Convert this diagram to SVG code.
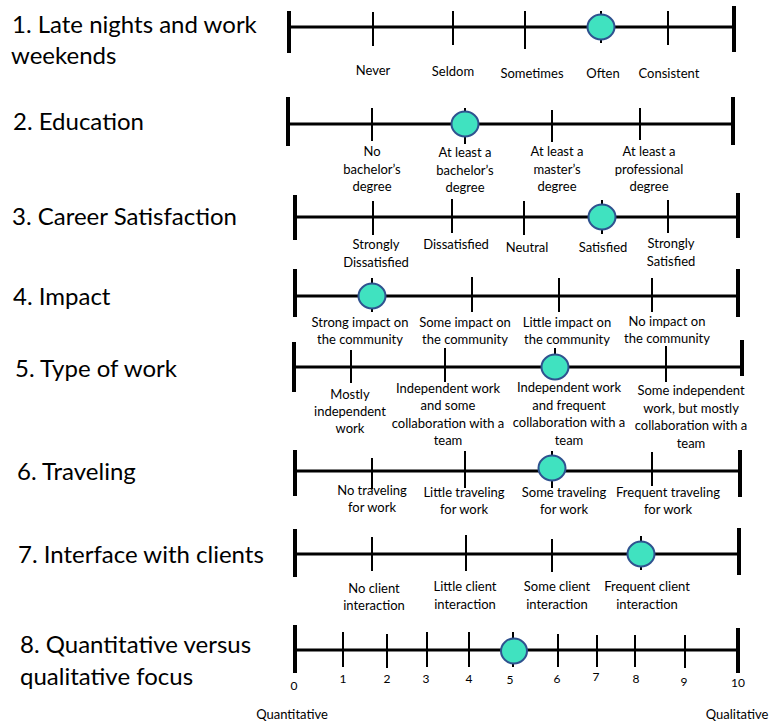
<svg xmlns="http://www.w3.org/2000/svg" width="782" height="721" viewBox="0 0 782 721">
  <style>
    .title { font-family: Lato, "Open Sans", "Liberation Sans", sans-serif; font-size: 24px; fill: #000; }
    .lbl { font-family: Lato, "Open Sans", "Liberation Sans", sans-serif; font-size: 13px; fill: #000; text-anchor: middle; }
    .num { font-family: Lato, "Open Sans", "Liberation Sans", sans-serif; font-size: 12px; fill: #000; text-anchor: middle; }
    .axis { stroke: #000; stroke-width: 3; fill: none; }
    .end { stroke: #000; stroke-width: 4; fill: none; }
    .tick { stroke: #000; stroke-width: 2; fill: none; }
    .mark { fill: #40E2C0; stroke: #2F528F; stroke-width: 2; }
  </style>
  <rect width="782" height="721" fill="#fff"/>

  <!-- 1. Late nights and work weekends -->
  <g id="scale-1">
    <text class="title" x="12" y="33">1. Late nights and work</text>
    <text class="title" x="11" y="64">weekends</text>
    <line class="axis" x1="289" y1="27" x2="734" y2="27"/>
    <line class="end" x1="289" y1="11" x2="289" y2="53"/>
    <line class="end" x1="734" y1="6" x2="734" y2="52"/>
    <line class="tick" x1="373" y1="12" x2="373" y2="46"/>
    <line class="tick" x1="453" y1="11" x2="453" y2="45"/>
    <line class="tick" x1="525" y1="11" x2="525" y2="49"/>
    <line class="tick" x1="601" y1="11" x2="601" y2="43"/>
    <line class="tick" x1="668" y1="11" x2="668" y2="45"/>
    <ellipse class="mark" cx="601" cy="27" rx="13.5" ry="12.5"/>
    <text class="lbl" x="373" y="75">Never</text>
    <text class="lbl" x="453" y="76">Seldom</text>
    <text class="lbl" x="532" y="78">Sometimes</text>
    <text class="lbl" x="603" y="78">Often</text>
    <text class="lbl" x="669" y="78">Consistent</text>
  </g>

  <!-- 2. Education -->
  <g id="scale-2">
    <text class="title" x="13" y="130">2. Education</text>
    <line class="axis" x1="288" y1="124" x2="733" y2="124"/>
    <line class="end" x1="288" y1="97" x2="288" y2="146"/>
    <line class="end" x1="733" y1="97" x2="733" y2="145"/>
    <line class="tick" x1="372" y1="108" x2="372" y2="141"/>
    <line class="tick" x1="465" y1="108" x2="465" y2="144"/>
    <line class="tick" x1="552" y1="110" x2="552" y2="142"/>
    <line class="tick" x1="640" y1="108" x2="640" y2="140"/>
    <ellipse class="mark" cx="465" cy="124" rx="13.5" ry="12.5"/>
    <text class="lbl" x="372" y="156">No</text>
    <text class="lbl" x="372" y="173.5">bachelor’s</text>
    <text class="lbl" x="372" y="191">degree</text>
    <text class="lbl" x="465" y="157">At least a</text>
    <text class="lbl" x="465" y="174.5">bachelor’s</text>
    <text class="lbl" x="465" y="192">degree</text>
    <text class="lbl" x="557" y="156">At least a</text>
    <text class="lbl" x="557" y="173.5">master’s</text>
    <text class="lbl" x="557" y="191">degree</text>
    <text class="lbl" x="649" y="156">At least a</text>
    <text class="lbl" x="649" y="173.5">professional</text>
    <text class="lbl" x="649" y="191">degree</text>
  </g>

  <!-- 3. Career Satisfaction -->
  <g id="scale-3">
    <text class="title" x="12" y="225">3. Career Satisfaction</text>
    <line class="axis" x1="295" y1="217" x2="738" y2="217"/>
    <line class="end" x1="295" y1="195" x2="295" y2="240"/>
    <line class="end" x1="738" y1="193" x2="738" y2="238"/>
    <line class="tick" x1="373" y1="201" x2="373" y2="235"/>
    <line class="tick" x1="452" y1="199" x2="452" y2="233"/>
    <line class="tick" x1="524" y1="201" x2="524" y2="235"/>
    <line class="tick" x1="602" y1="200" x2="602" y2="234"/>
    <line class="tick" x1="668" y1="200" x2="668" y2="233"/>
    <ellipse class="mark" cx="602" cy="217" rx="13.5" ry="12.5"/>
    <text class="lbl" x="376" y="249">Strongly</text>
    <text class="lbl" x="376" y="266.5">Dissatisfied</text>
    <text class="lbl" x="456" y="249">Dissatisfied</text>
    <text class="lbl" x="527" y="251.5">Neutral</text>
    <text class="lbl" x="603" y="251.5">Satisfied</text>
    <text class="lbl" x="671" y="248">Strongly</text>
    <text class="lbl" x="671" y="265.5">Satisfied</text>
  </g>

  <!-- 4. Impact -->
  <g id="scale-4">
    <text class="title" x="13" y="305">4. Impact</text>
    <line class="axis" x1="295" y1="296" x2="738" y2="296"/>
    <line class="end" x1="295" y1="269" x2="295" y2="317"/>
    <line class="end" x1="738" y1="269" x2="738" y2="317"/>
    <line class="tick" x1="372" y1="278" x2="372" y2="312"/>
    <line class="tick" x1="472" y1="277" x2="472" y2="312"/>
    <line class="tick" x1="559" y1="278" x2="559" y2="312"/>
    <line class="tick" x1="652" y1="278" x2="652" y2="312"/>
    <ellipse class="mark" cx="372" cy="296" rx="13.5" ry="12.5"/>
    <text class="lbl" x="360" y="327">Strong impact on</text>
    <text class="lbl" x="360" y="344">the community</text>
    <text class="lbl" x="465" y="327">Some impact on</text>
    <text class="lbl" x="465" y="344">the community</text>
    <text class="lbl" x="567" y="327">Little impact on</text>
    <text class="lbl" x="567" y="344">the community</text>
    <text class="lbl" x="667" y="325.5">No impact on</text>
    <text class="lbl" x="667" y="342.5">the community</text>
  </g>

  <!-- 5. Type of work -->
  <g id="scale-5">
    <text class="title" x="15" y="377">5. Type of work</text>
    <line class="axis" x1="294" y1="367" x2="742" y2="367"/>
    <line class="end" x1="294" y1="342" x2="294" y2="392"/>
    <line class="end" x1="742" y1="340" x2="742" y2="376"/>
    <line class="tick" x1="351" y1="350" x2="351" y2="383"/>
    <line class="tick" x1="445" y1="348" x2="445" y2="382"/>
    <line class="tick" x1="555" y1="348" x2="555" y2="380"/>
    <line class="tick" x1="666" y1="346" x2="666" y2="382"/>
    <ellipse class="mark" cx="555" cy="367" rx="13.5" ry="12.5"/>
    <text class="lbl" x="350" y="399">Mostly</text>
    <text class="lbl" x="350" y="416">independent</text>
    <text class="lbl" x="350" y="433">work</text>
    <text class="lbl" x="448" y="392.5">Independent work</text>
    <text class="lbl" x="448" y="410">and some</text>
    <text class="lbl" x="448" y="427.5">collaboration with a</text>
    <text class="lbl" x="448" y="445">team</text>
    <text class="lbl" x="569" y="392">Independent work</text>
    <text class="lbl" x="569" y="409.5">and frequent</text>
    <text class="lbl" x="569" y="427">collaboration with a</text>
    <text class="lbl" x="569" y="444.5">team</text>
    <text class="lbl" x="691" y="395">Some independent</text>
    <text class="lbl" x="691" y="412.5">work, but mostly</text>
    <text class="lbl" x="691" y="430">collaboration with a</text>
    <text class="lbl" x="691" y="447.5">team</text>
  </g>

  <!-- 6. Traveling -->
  <g id="scale-6">
    <text class="title" x="17" y="480">6. Traveling</text>
    <line class="axis" x1="295" y1="471" x2="740" y2="471"/>
    <line class="end" x1="295" y1="450" x2="295" y2="496"/>
    <line class="end" x1="740" y1="450" x2="740" y2="497"/>
    <line class="tick" x1="372" y1="458" x2="372" y2="489"/>
    <line class="tick" x1="465" y1="451" x2="465" y2="488"/>
    <line class="tick" x1="552" y1="451" x2="552" y2="488"/>
    <line class="tick" x1="652" y1="452" x2="652" y2="486"/>
    <ellipse class="mark" cx="552" cy="468" rx="13.5" ry="12.5"/>
    <text class="lbl" x="372" y="495">No traveling</text>
    <text class="lbl" x="372" y="512">for work</text>
    <text class="lbl" x="464" y="497">Little traveling</text>
    <text class="lbl" x="464" y="514">for work</text>
    <text class="lbl" x="564" y="497">Some traveling</text>
    <text class="lbl" x="564" y="514">for work</text>
    <text class="lbl" x="668" y="497">Frequent traveling</text>
    <text class="lbl" x="668" y="514">for work</text>
  </g>

  <!-- 7. Interface with clients -->
  <g id="scale-7">
    <text class="title" x="18" y="563">7. Interface with clients</text>
    <line class="axis" x1="295" y1="554" x2="739" y2="554"/>
    <line class="end" x1="295" y1="529" x2="295" y2="577"/>
    <line class="end" x1="739" y1="528" x2="739" y2="575"/>
    <line class="tick" x1="372" y1="537" x2="372" y2="571"/>
    <line class="tick" x1="466" y1="535" x2="466" y2="571"/>
    <line class="tick" x1="552" y1="539" x2="552" y2="572"/>
    <line class="tick" x1="641" y1="536" x2="641" y2="570"/>
    <ellipse class="mark" cx="641" cy="554" rx="13.5" ry="12.5"/>
    <text class="lbl" x="374" y="592.5">No client</text>
    <text class="lbl" x="374" y="610">interaction</text>
    <text class="lbl" x="465" y="591">Little client</text>
    <text class="lbl" x="465" y="608.5">interaction</text>
    <text class="lbl" x="557" y="591">Some client</text>
    <text class="lbl" x="557" y="608.5">interaction</text>
    <text class="lbl" x="647" y="591">Frequent client</text>
    <text class="lbl" x="647" y="608.5">interaction</text>
  </g>

  <!-- 8. Quantitative versus qualitative focus -->
  <g id="scale-8">
    <text class="title" x="20" y="653">8. Quantitative versus</text>
    <text class="title" x="20" y="685">qualitative focus</text>
    <line class="axis" x1="295" y1="650" x2="738" y2="650"/>
    <line class="end" x1="295" y1="625" x2="295" y2="673"/>
    <line class="end" x1="738" y1="628" x2="738" y2="673"/>
    <line class="tick" x1="343" y1="632" x2="343" y2="667"/>
    <line class="tick" x1="387" y1="634" x2="387" y2="668"/>
    <line class="tick" x1="427" y1="632" x2="427" y2="667"/>
    <line class="tick" x1="469" y1="632" x2="469" y2="667"/>
    <line class="tick" x1="513" y1="632" x2="513" y2="667"/>
    <line class="tick" x1="558" y1="634" x2="558" y2="667"/>
    <line class="tick" x1="597" y1="635" x2="597" y2="667"/>
    <line class="tick" x1="635" y1="635" x2="635" y2="667"/>
    <line class="tick" x1="685" y1="635" x2="685" y2="668"/>
    <ellipse class="mark" cx="514" cy="651" rx="13" ry="12.5"/>
    <text class="num" x="294" y="690">0</text>
    <text class="num" x="343" y="683">1</text>
    <text class="num" x="387" y="683">2</text>
    <text class="num" x="426" y="683">3</text>
    <text class="num" x="469" y="683">4</text>
    <text class="num" x="510" y="684">5</text>
    <text class="num" x="557" y="683">6</text>
    <text class="num" x="596" y="681">7</text>
    <text class="num" x="636" y="683">8</text>
    <text class="num" x="684" y="686">9</text>
    <text class="num" x="738" y="687">10</text>
    <text class="lbl" x="292" y="719">Quantitative</text>
    <text class="lbl" x="737" y="719">Qualitative</text>
  </g>
</svg>
